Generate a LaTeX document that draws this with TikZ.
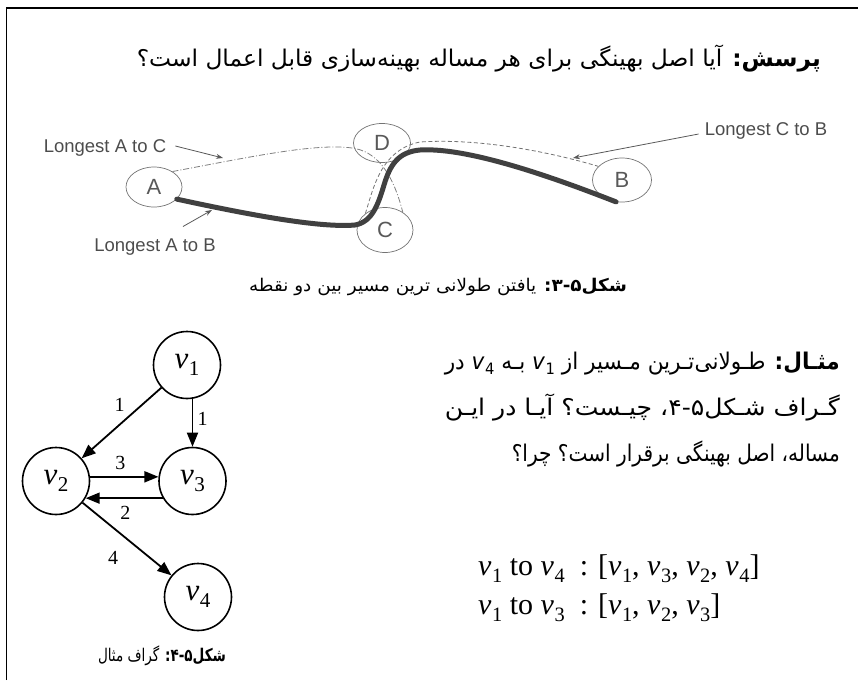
\documentclass[tikz,border=0pt]{standalone}
\usepackage{fontspec}
\usepackage{graphicx}
\setmainfont{Liberation Serif}
\newfontfamily\fa[Script=Arabic]{DejaVu Sans}
\newfontfamily\arialish{Liberation Sans}
\TeXXeTstate=1
\usetikzlibrary{shapes.geometric,arrows.meta,calc}

% italic v with an upright index
\newcommand{\vx}[1]{\textit{v}\kern0.02em\raisebox{-0.25em}{\scalebox{0.68}{#1}}}
% a line set to a given width, keeping its height
\newcommand{\fitline}[2]{\resizebox{#1}{\height}{#2}}

\begin{document}
\begin{tikzpicture}[x=1pt,y=-1pt,
  frameline/.style={line width=1.3pt},
  place/.style={ellipse, draw=black!55, line width=0.7pt, inner sep=0pt,
    font=\arialish\fontsize{22}{22}\selectfont, text=black!65},
  lbltext/.style={font=\arialish\fontsize{18.5}{19}\selectfont, text=black!70, inner sep=0pt},
  ptr/.style={draw=black!65, line width=0.8pt, -{Stealth[length=7pt,width=5pt]}},
  thickpath/.style={draw=black!75, line width=5pt, line cap=round},
  dashdotpath/.style={draw=black!50, line width=0.8pt, dash pattern=on 6pt off 2pt on 1pt off 2pt},
  dashedpath/.style={draw=black!55, line width=0.8pt, dash pattern=on 4pt off 2.5pt},
  vertex/.style={circle, draw=black, line width=1.6pt, minimum size=67pt, inner sep=0pt,
    font=\fontsize{31}{31}\selectfont},
  edge/.style={draw=black, line width=1.8pt, -{Triangle[length=14pt,width=11pt]}},
  elbl/.style={font=\fontsize{20}{20}\selectfont, inner sep=0pt},
  fatext/.style={font=\fa\fontsize{23}{26}\selectfont, inner sep=0pt},
  capt/.style={font=\fa\fontsize{17.5}{20}\selectfont, inner sep=0pt},
  formula/.style={font=\fontsize{30}{31}\selectfont, inner sep=0pt, anchor=base west}
]
\useasboundingbox (0,0) rectangle (858,680);

% page frame
\draw[frameline] (6.5,680) -- (6.5,8) -- (858,8);

% question
\node[fatext, anchor=base east] (question) at (821,66)
  {\fitline{684pt}{\beginR\textbf{پرسش:} آیا اصل بهینگی برای هر مساله بهینه‌سازی قابل اعمال است؟\endR}};

% path diagram
\node[place, minimum width=56pt, minimum height=40pt] (A) at (154,187) {A};
\node[place, minimum width=57pt, minimum height=39pt] (D) at (382,143) {D};
\node[place, minimum width=56pt, minimum height=45pt] (C) at (385,230) {C};
\node[place, minimum width=59pt, minimum height=44pt] (B) at (622,180) {B};

\draw[dashdotpath] (A.40) .. controls (250,157) and (315,143) .. (352,148)
  .. controls (375,151) and (392,170) .. (C.45);
\draw[dashedpath] (C.140) .. controls (373,190) and (380,150) .. (420,142)
  .. controls (480,138) and (550,152) .. (B.150);
\draw[thickpath] (A.-28) .. controls (250,215) and (320,228) .. (355,225)
  .. controls (372,222) and (378,205) .. (384,185)
  .. controls (390,165) and (398,152) .. (420,150)
  .. controls (470,147) and (560,180) .. (B.-105);

\node[lbltext] (LAC) at (105,148) {Longest A to C};
\node[lbltext] (LAB) at (155,247) {Longest A to B};
\node[lbltext] (LCB) at (766,131) {Longest C to B};
\coordinate (pAC) at (223,158);
\coordinate (pAB) at (212,210);
\coordinate (pCB) at (573,158);
\draw[ptr] ([xshift=9pt,yshift=2pt]LAC.east) -- (pAC);
\draw[ptr] ([xshift=28pt,yshift=12pt]LAB.north) -- (pAB);
\draw[ptr] ([xshift=-6pt,yshift=-3pt]LCB.west) -- (pCB);

\node[capt, anchor=base] (cap1) at (438,291)
  {\fitline{378pt}{\beginR\textbf{شکل۵-۳:} یافتن طولانی ترین مسیر بین دو نقطه\endR}};

% example graph
\node[vertex] (v1) at (187,365) {\vx{1}};
\node[vertex] (v2) at (56,481) {\vx{2}};
\node[vertex] (v3) at (192.5,481) {\vx{3}};
\node[vertex] (v4) at (198,597) {\vx{4}};

\draw[edge] (v1) -- (v2) node[elbl, midway, xshift=-2pt, yshift=18pt] {1};
\draw[edge] (v1.south -| v3.north) -- (v3.north) node[elbl, midway, xshift=10pt, yshift=4pt] {1};
\draw[edge] (v2.7) -- (v3.173) node[elbl, midway, xshift=-4pt, yshift=14pt] {3};
\draw[edge] (v3.210) -- (v2.-30) node[elbl, midway, xshift=1pt, yshift=-15pt] {2};
\draw[edge] (v2) -- (v4) node[elbl, midway, xshift=-14pt, yshift=-19pt] {4};

\node[capt, anchor=base] (cap2) at (162,661)
  {\fitline{128pt}{\beginR\textbf{شکل۵-۴:} گراف مثال\endR}};

% example text
\node[fatext, anchor=base east] (ex1) at (840,369)
  {\fitline{395pt}{\beginR\textbf{مثـال:} طـولانی‌تـرین مـسیر از \beginL\vx{1}\endL{} بـه \beginL\vx{4}\endL{} در\endR}};
\node[fatext, anchor=base east] (ex2) at (840,415)
  {\fitline{395pt}{\beginR گـراف شـکل۵-۴، چیـست؟ آیـا در ایـن\endR}};
\node[fatext, anchor=base east] (ex3) at (840,461)
  {\fitline{328pt}{\beginR مساله، اصل بهینگی برقرار است؟ چرا؟\endR}};

% answers
\node[formula] (ans1) at (478,575) {\vx{1} to \vx{4}\enspace: [\vx{1}, \vx{3}, \vx{2}, \vx{4}]};
\node[formula] (ans2) at (478,614) {\vx{1} to \vx{3}\enspace: [\vx{1}, \vx{2}, \vx{3}]};
\end{tikzpicture}
\end{document}
